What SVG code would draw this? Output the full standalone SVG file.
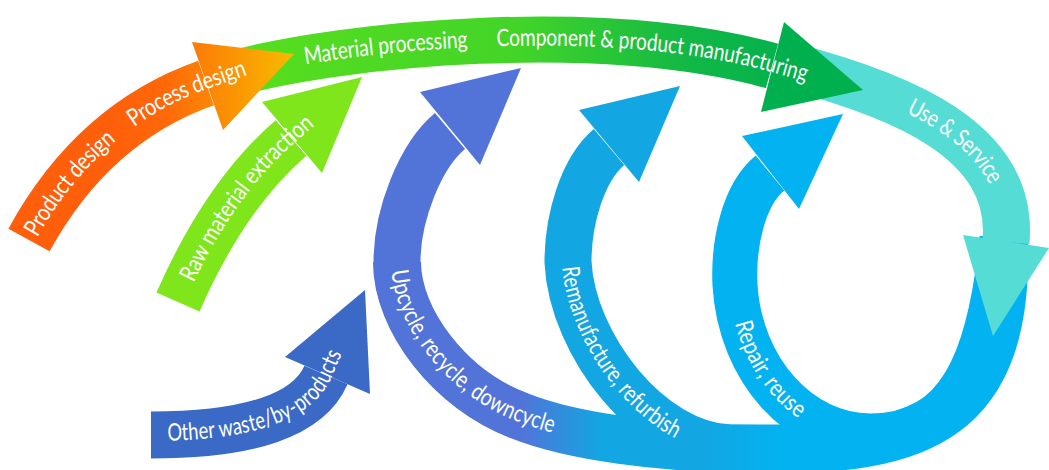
<svg xmlns="http://www.w3.org/2000/svg" xmlns:xlink="http://www.w3.org/1999/xlink" width="1049" height="470" viewBox="0 0 1049 470">
<style>
.band{fill:none;stroke-linecap:butt;stroke-linejoin:round}
.lbl{fill:#ffffff;font-family:Lato,"Open Sans","Liberation Sans",sans-serif;font-size:24px;dominant-baseline:middle}
</style>
<defs>
<linearGradient id="gOrange" gradientUnits="userSpaceOnUse" x1="110" y1="0" x2="290" y2="0">
<stop offset="0" stop-color="#FF5F0A"/><stop offset="0.3" stop-color="#FF6808"/><stop offset="1" stop-color="#F7B800"/>
</linearGradient>
<linearGradient id="gGreen" gradientUnits="userSpaceOnUse" x1="240" y1="0" x2="800" y2="0">
<stop offset="0" stop-color="#58DE1E"/><stop offset="0.5" stop-color="#42D428"/><stop offset="0.8" stop-color="#12B846"/><stop offset="1" stop-color="#00B04E"/>
</linearGradient>
<linearGradient id="gSweep" gradientUnits="userSpaceOnUse" x1="520" y1="0" x2="780" y2="0">
<stop offset="0" stop-color="#5274D8"/><stop offset="0.31" stop-color="#12A6E2"/><stop offset="0.69" stop-color="#12A6E2"/><stop offset="1" stop-color="#03B2F0"/>
</linearGradient>
<linearGradient id="gReman" gradientUnits="userSpaceOnUse" x1="700" y1="0" x2="780" y2="0">
<stop offset="0" stop-color="#12A6E2"/><stop offset="1" stop-color="#03B2F0"/>
</linearGradient>
<path id="tpOrange" d="M29,240 Q93,123 206,83 L320,43"/>
<path id="tpGreen" d="M240,72 C340,45 600,18 772,66 L880,96"/>
<path id="tpTeal" d="M790,66 C900,95 1015,140 1006,242"/>
<path id="tpRaw" d="M178,302 Q225,195 291,138 L380,62"/>
<path id="tpWaste" d="M151,435 Q300,435 326,375 L370,274"/>
<path id="tpUp" d="M450,131 C420,156 397,215 397,262 C397,320 450,390 520,416 C575,437 660,449 760,449"/>
<path id="tpReman" d="M609,147 C582,170 568,220 568,262 C572,345 650,445 730,448 L800,448"/>
<path id="tpRepair" d="M770,173 C743,195 733,245 735,285 C740,370 800,436 870,436"/>
</defs>

<g id="upcycle">
<path class="band" stroke="url(#gSweep)" stroke-width="48" d="M397,262 C397,320 450,390 520,416 C570,436 660,449 760,449 C920,452 1010,420 1004,238"/>
<path class="band" stroke="#5274D8" stroke-width="47" d="M450,131 C420,156 397,215 397,262 C397,320 450,390 520,416"/>
<polygon fill="#5274D8" points="420,92 521,68 480,165"/>
<text class="lbl"><textPath xlink:href="#tpUp" href="#tpUp" startOffset="153" textLength="236" lengthAdjust="spacingAndGlyphs">Upcycle, recycle, downcycle</textPath></text>
</g>

<g id="remanufacture">
<path class="band" stroke="url(#gReman)" stroke-width="47" d="M609,147 C582,170 568,220 568,262 C572,345 650,445 730,448 L800,448"/>
<polygon fill="#12A6E2" points="579,110 680,86 639,182"/>
<text class="lbl"><textPath xlink:href="#tpReman" href="#tpReman" startOffset="130" textLength="207" lengthAdjust="spacingAndGlyphs">Remanufacture, refurbish</textPath></text>
</g>

<g id="repair">
<path class="band" stroke="#03B2F0" stroke-width="45" d="M770,173 C743,195 733,245 735,285 C740,370 800,436 870,436 C960,436 990,360 1002,238"/>
<polygon fill="#03B2F0" points="742,136 843,114 799,209"/>
<text class="lbl"><textPath xlink:href="#tpRepair" href="#tpRepair" startOffset="158" textLength="113" lengthAdjust="spacingAndGlyphs">Repair, reuse</textPath></text>
</g>

<g id="use-service">
<path class="band" stroke="#55DDD5" stroke-width="47" d="M790,66 C900,95 1015,140 1006,242"/>
<polygon fill="#55DDD5" points="963,235 993,336 1049,248"/>
<text class="lbl"><textPath xlink:href="#tpTeal" href="#tpTeal" startOffset="126" textLength="116" lengthAdjust="spacingAndGlyphs">Use &amp; Service</textPath></text>
</g>

<g id="manufacturing">
<path class="band" stroke="url(#gGreen)" stroke-width="46" d="M240,72 C340,45 600,18 772,66"/>
<polygon fill="#00B04E" points="784,22 863,90 761,112"/>
<text class="lbl"><textPath xlink:href="#tpGreen" href="#tpGreen" startOffset="66" textLength="164" lengthAdjust="spacingAndGlyphs">Material processing</textPath></text>
<text class="lbl"><textPath xlink:href="#tpGreen" href="#tpGreen" startOffset="259" textLength="314" lengthAdjust="spacingAndGlyphs">Component &amp; product manufacturing</textPath></text>
</g>

<g id="design">
<path class="band" stroke="url(#gOrange)" stroke-width="47" d="M29,240 Q93,123 206,83"/>
<polygon fill="url(#gOrange)" points="192,42 294,54 223,130"/>
<text class="lbl"><textPath xlink:href="#tpOrange" href="#tpOrange" startOffset="6" textLength="128" lengthAdjust="spacingAndGlyphs">Product design</textPath></text>
<text class="lbl"><textPath xlink:href="#tpOrange" href="#tpOrange" startOffset="157" textLength="127" lengthAdjust="spacingAndGlyphs">Process design</textPath></text>
</g>

<g id="raw-material">
<path class="band" stroke="#7EE61A" stroke-width="47" d="M178,302 Q225,195 291,138"/>
<polygon fill="#7EE61A" points="262,102 362,77 322,173"/>
<text class="lbl"><textPath xlink:href="#tpRaw" href="#tpRaw" startOffset="24" textLength="203" lengthAdjust="spacingAndGlyphs">Raw material extraction</textPath></text>
</g>

<g id="other-waste">
<path class="band" stroke="#3A6AC5" stroke-width="47" d="M151,435 Q300,435 326,375"/>
<polygon fill="#3A6AC5" points="285,357 365,290 370,394"/>
<text class="lbl"><textPath xlink:href="#tpWaste" href="#tpWaste" startOffset="16" textLength="204" lengthAdjust="spacingAndGlyphs">Other waste/by-products</textPath></text>
</g>
</svg>
